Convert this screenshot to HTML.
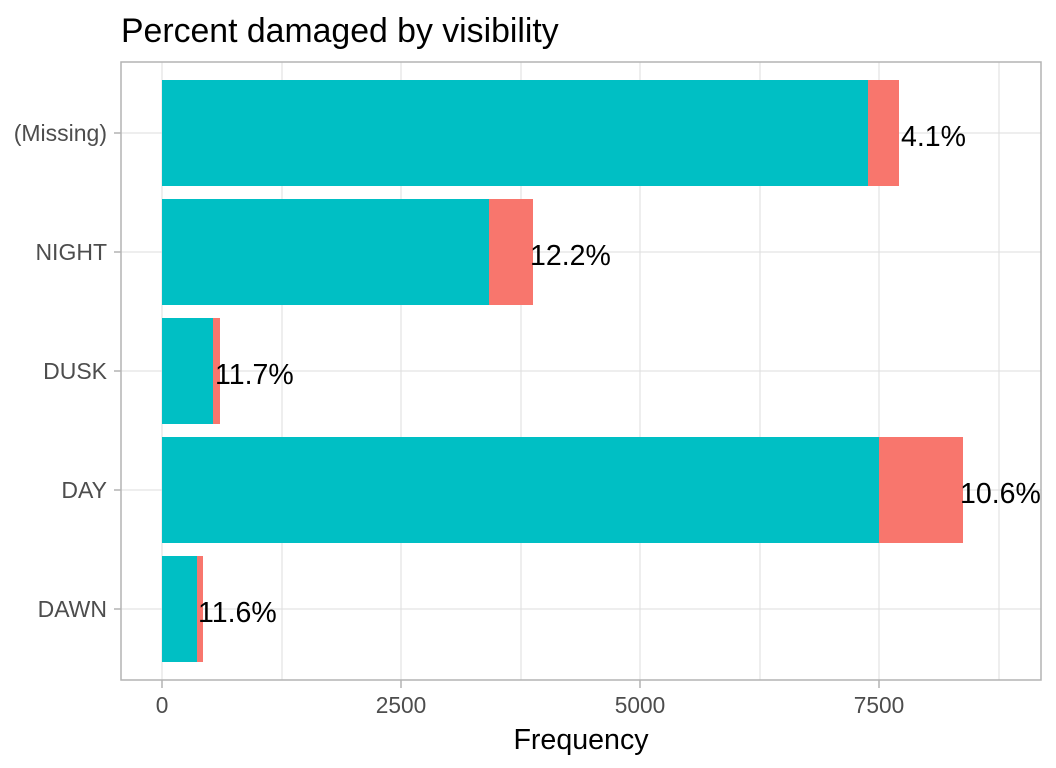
<!DOCTYPE html>
<html><head><meta charset="utf-8"><style>body{margin:0;background:#fff}svg{display:block}</style></head>
<body>
<svg width="1056" height="768" xmlns="http://www.w3.org/2000/svg" font-family="Liberation Sans, sans-serif">
<rect width="1056" height="768" fill="#fff"/>
<text x="121" y="42" font-size="33.8" fill="#000">Percent damaged by visibility</text>
<g stroke="#dedede" stroke-width="1">
<line x1="282" y1="62" x2="282" y2="680"/><line x1="521" y1="62" x2="521" y2="680"/><line x1="760" y1="62" x2="760" y2="680"/><line x1="999" y1="62" x2="999" y2="680"/>
<line x1="162" y1="62" x2="162" y2="680"/><line x1="401" y1="62" x2="401" y2="680"/><line x1="640" y1="62" x2="640" y2="680"/><line x1="879" y1="62" x2="879" y2="680"/>
<line x1="121" y1="133" x2="1041" y2="133"/><line x1="121" y1="252" x2="1041" y2="252"/><line x1="121" y1="371" x2="1041" y2="371"/><line x1="121" y1="490" x2="1041" y2="490"/><line x1="121" y1="609" x2="1041" y2="609"/>
</g>
<g fill="#00BFC4">
<rect x="162" y="80" width="706" height="106"/>
<rect x="162" y="199" width="327" height="106"/>
<rect x="162" y="318" width="51" height="106"/>
<rect x="162" y="437" width="717" height="106"/>
<rect x="162" y="556" width="35" height="106"/>
</g>
<g fill="#F8766D">
<rect x="868" y="80" width="31" height="106"/>
<rect x="489" y="199" width="44" height="106"/>
<rect x="213" y="318" width="7" height="106"/>
<rect x="879" y="437" width="84" height="106"/>
<rect x="197" y="556" width="6" height="106"/>
</g>
<g font-size="28.5" fill="#000">
<text x="901" y="146">4.1%</text>
<text x="530" y="265">12.2%</text>
<text x="215" y="384">11.7%</text>
<text x="960" y="503">10.6%</text>
<text x="198" y="622">11.6%</text>
</g>
<rect x="121" y="62" width="920" height="618" fill="none" stroke="#b3b3b3" stroke-width="1.5"/>
<g stroke="#b3b3b3" stroke-width="1.5">
<line x1="114" y1="133" x2="121" y2="133"/><line x1="114" y1="252" x2="121" y2="252"/><line x1="114" y1="371" x2="121" y2="371"/><line x1="114" y1="490" x2="121" y2="490"/><line x1="114" y1="609" x2="121" y2="609"/>
<line x1="162" y1="680" x2="162" y2="688"/><line x1="401" y1="680" x2="401" y2="688"/><line x1="640" y1="680" x2="640" y2="688"/><line x1="879" y1="680" x2="879" y2="688"/>
</g>
<g font-size="23" fill="#4d4d4d" text-anchor="end">
<text x="107" y="141">(Missing)</text>
<text x="107" y="260">NIGHT</text>
<text x="107" y="379">DUSK</text>
<text x="107" y="498">DAY</text>
<text x="107" y="617">DAWN</text>
</g>
<g font-size="22.7" fill="#4d4d4d" text-anchor="middle">
<text x="162" y="713">0</text><text x="401" y="713">2500</text><text x="640" y="713">5000</text><text x="879" y="713">7500</text>
</g>
<text x="581" y="749" font-size="28.6" fill="#000" text-anchor="middle">Frequency</text>
</svg>
</body></html>
